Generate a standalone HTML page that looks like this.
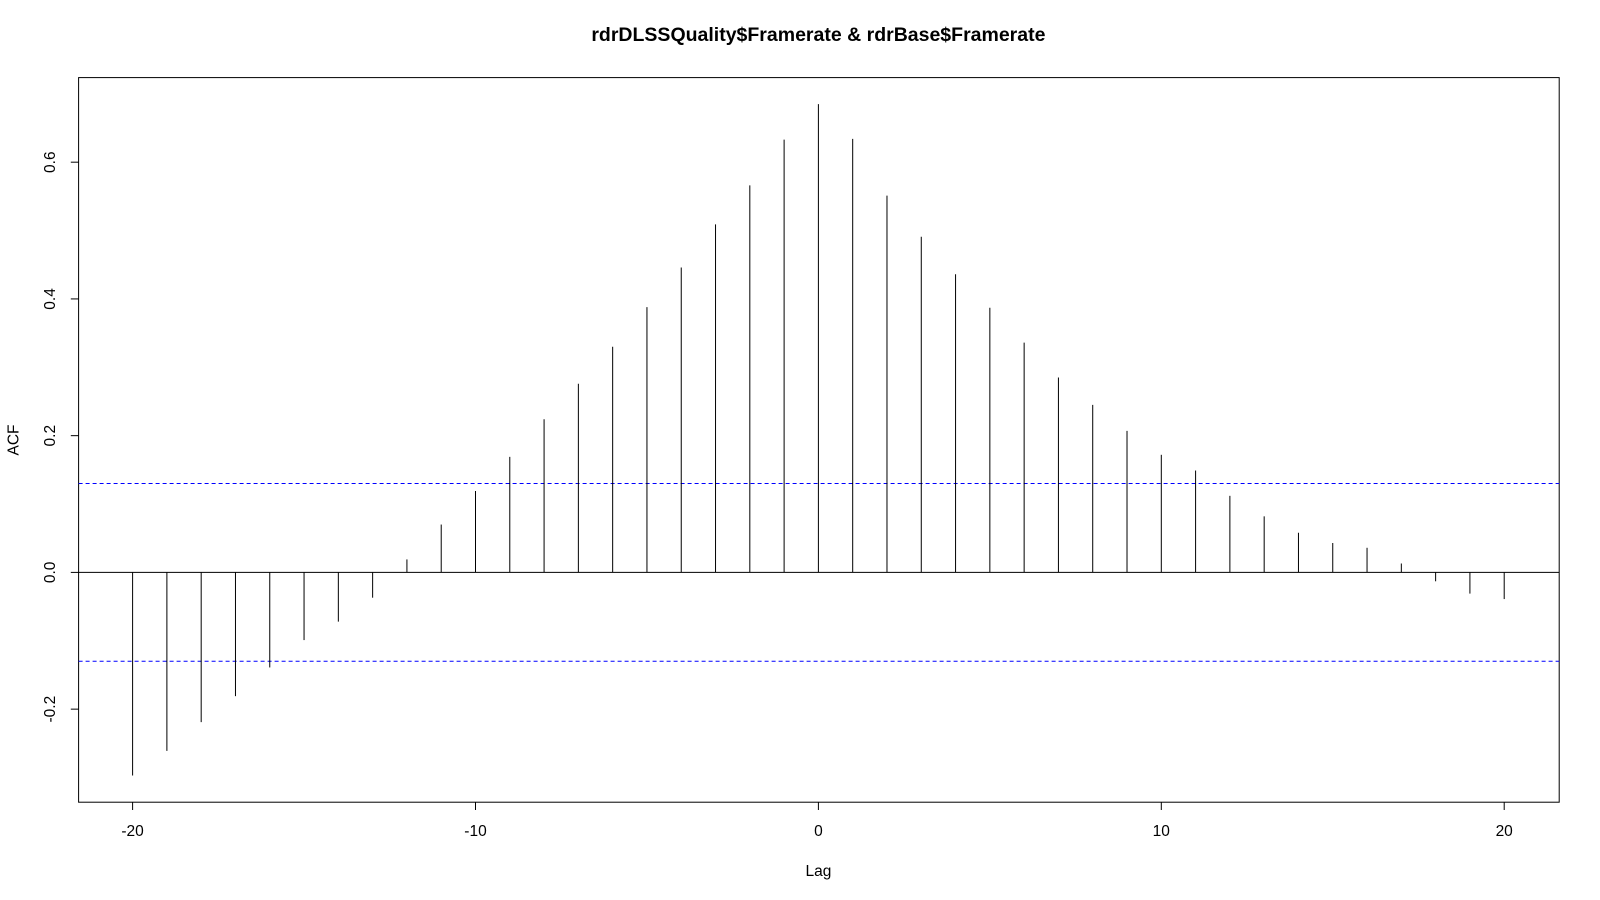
<!DOCTYPE html>
<html><head><meta charset="utf-8"><style>
html,body{margin:0;padding:0;background:#fff;}
svg{display:block;font-family:"Liberation Sans",Arial,sans-serif;}
</style></head><body>
<svg id="chart" width="1600" height="900">
<text x="818.4" y="41" text-anchor="middle" font-size="19.5" font-weight="bold">rdrDLSSQuality$Framerate &amp; rdrBase$Framerate</text>
<rect x="78.6" y="77.6" width="1480.6" height="724.6" fill="none" stroke="#000"/>
<text x="818.4" y="876" text-anchor="middle" font-size="15.5">Lag</text>
<text transform="translate(18.5,440) rotate(-90)" text-anchor="middle" font-size="15.5">ACF</text>
<g id="axes"></g><g id="marks"></g>
</svg>
<script>
const lags=[-20,-19,-18,-17,-16,-15,-14,-13,-12,-11,-10,-9,-8,-7,-6,-5,-4,-3,-2,-1,0,1,2,3,4,5,6,7,8,9,10,11,12,13,14,15,16,17,18,19,20];
const acfValues=[-0.297,-0.261,-0.219,-0.181,-0.139,-0.099,-0.072,-0.037,0.019,0.070,0.119,0.169,0.224,0.276,0.330,0.388,0.446,0.509,0.566,0.633,0.685,0.634,0.551,0.491,0.436,0.387,0.336,0.285,0.245,0.207,0.172,0.149,0.112,0.082,0.058,0.043,0.036,0.013,-0.013,-0.031,-0.039];
const xTicks=[-20,-10,0,10,20];
const yTicks=[-0.2,0.0,0.2,0.4,0.6];
const yTickLabels=["-0.2","0.0","0.2","0.4","0.6"];
const ciBound=0.13;
const NS="http://www.w3.org/2000/svg";
const xs=v=>818.4+v*34.29;
const ys=v=>572.4-v*683.7;
function mk(tag,attrs,parent){const e=document.createElementNS(NS,tag);for(const k in attrs)e.setAttribute(k,attrs[k]);parent.appendChild(e);return e;}
const ax=document.getElementById('axes'),mg=document.getElementById('marks');
xTicks.forEach(t=>{
  const l=mk('line',{x1:xs(t),x2:xs(t),y1:802.2,y2:810,stroke:'#000'},ax);
  
  
  const tx=mk('text',{x:xs(t),y:836,'text-anchor':'middle','font-size':15.5},ax);tx.textContent=t;
  
  
});
yTicks.forEach((t,i)=>{
  const l=mk('line',{x1:70.8,x2:78.6,y1:ys(t),y2:ys(t),stroke:'#000'},ax);
  
  
  const tx=mk('text',{transform:`translate(55,${ys(t)}) rotate(-90)`,'text-anchor':'middle','font-size':15.5},ax);tx.textContent=yTickLabels[i];
  
  
});
const z=mk('line',{x1:78.6,x2:1559.2,y1:ys(0),y2:ys(0),stroke:'#000'},mg);


[ciBound,-ciBound].forEach(c=>{
  const l=mk('line',{x1:78.6,x2:1559.2,y1:ys(c),y2:ys(c),stroke:'#0000ff','stroke-dasharray':'4,3'},mg);
  
  
});
lags.forEach((g,i)=>{
  const l=mk('line',{x1:xs(g),x2:xs(g),y1:ys(0),y2:ys(acfValues[i]),stroke:'#000'},mg);
  
  
});
</script>
</body></html>
